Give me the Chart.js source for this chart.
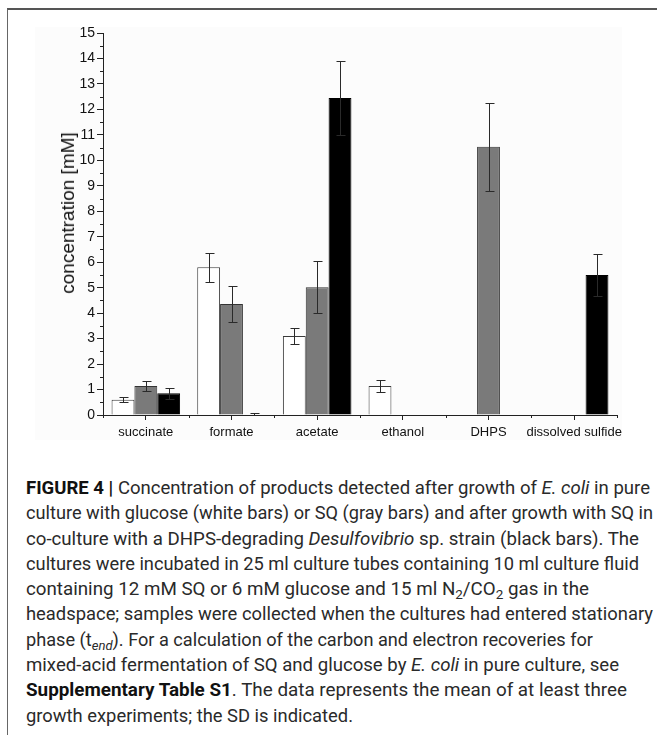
<!DOCTYPE html>
<html><head><meta charset="utf-8">
<script src="https://cdn.jsdelivr.net/npm/chart.js@4"></script>
<style>
html,body{margin:0;padding:0;background:#fff;}
body{width:657px;height:735px;position:relative;overflow:hidden;font-family:"Liberation Sans",Arial,sans-serif;}
#frame{position:absolute;left:7px;top:8px;width:700px;height:800px;border-top:2px solid #555;border-left:1px solid #666;}
#bg{position:absolute;left:35px;top:27px;width:587px;height:413px;background:#fcfcfc;}
#wrap{position:absolute;left:35px;top:17px;width:597px;height:423px;}
#ytitle{position:absolute;left:68px;top:213px;transform:translate(-50%,-50%) rotate(-90deg);white-space:nowrap;font-family:"Liberation Sans",Arial,sans-serif;font-size:19px;color:#111;}
#cap{position:absolute;left:26px;top:476px;font-family:"Liberation Sans Narrow",Roboto,"Noto Sans",sans-serif;font-size:17.5px;line-height:25.3px;color:#2a2a2a;}
#cap div{white-space:nowrap;height:25.3px;}
#cap span.l{display:inline-block;transform-origin:0 50%;}
#cap b{color:#111;}
.sub{font-size:0.72em;vertical-align:-0.28em;line-height:0;}
</style></head><body>
<div id="frame"></div>
<div id="bg"></div>
<div id="wrap"><canvas id="c" width="597" height="423"></canvas></div>
<div id="ytitle">concentration [mM]</div>
<div id="cap">
<div><span class="l"><b>FIGURE 4 |</b> Concentration of products detected after growth of <i>E. coli</i> in pure</span></div>
<div><span class="l">culture with glucose (white bars) or SQ (gray bars) and after growth with SQ in</span></div>
<div><span class="l">co-culture with a DHPS-degrading <i>Desulfovibrio</i> sp. strain (black bars). The</span></div>
<div><span class="l">cultures were incubated in 25 ml culture tubes containing 10 ml culture fluid</span></div>
<div><span class="l">containing 12 mM SQ or 6 mM glucose and 15 ml N<span class="sub">2</span>/CO<span class="sub">2</span> gas in the</span></div>
<div><span class="l">headspace; samples were collected when the cultures had entered stationary</span></div>
<div><span class="l">phase (t<span class="sub"><i>end</i></span>). For a calculation of the carbon and electron recoveries for</span></div>
<div><span class="l">mixed-acid fermentation of SQ and glucose by <i>E. coli</i> in pure culture, see</span></div>
<div><span class="l"><b>Supplementary Table S1</b>. The data represents the mean of at least three</span></div>
<div><span class="l">growth experiments; the SD is indicated.</span></div>
</div>
<script>
const categories = ['succinate', 'formate', 'acetate', 'ethanol', 'DHPS', 'dissolved sulfide'];
const glucoseValues = [0.6, 5.8, 3.1, 1.14, null, null];
const glucoseSD = [0.09, 0.56, 0.31, 0.22, null, null];
const sqValues = [1.14, 4.36, 5.02, null, 10.53, null];
const sqSD = [0.2, 0.69, 1.01, null, 1.72, null];
const cocultureValues = [0.85, 0, 12.45, null, null, 5.5];
const cocultureSD = [0.21, 0.09, 1.45, null, null, 0.82];
const yMin = 0, yMax = 15, yStep = 1;

const errorBars = {
  id: 'errorBars',
  afterDatasetsDraw(chart) {
    const ctx = chart.ctx, y = chart.scales.y, a = chart.chartArea;
    ctx.save();
    ctx.beginPath();
    ctx.rect(a.left, a.top - 20, a.right - a.left, a.bottom - a.top + 20);
    ctx.clip();
    ctx.strokeStyle = '#2a2a2a';
    ctx.lineWidth = 1;
    chart.data.datasets.forEach((ds, i) => {
      const meta = chart.getDatasetMeta(i);
      meta.data.forEach((bar, j) => {
        const v = ds.data[j], e = ds.sd[j];
        if (v == null || e == null) return;
        const x = Math.round(bar.x) + 0.5;
        const yt = Math.round(y.getPixelForValue(v + e)) + 0.5;
        const yb = Math.round(y.getPixelForValue(v - e)) + 0.5;
        const c = 4;
        ctx.beginPath();
        ctx.moveTo(x, yt); ctx.lineTo(x, yb);
        ctx.moveTo(x - c, yt); ctx.lineTo(x + c + 1, yt);
        ctx.moveTo(x - c, yb); ctx.lineTo(x + c + 1, yb);
        ctx.stroke();
      });
    });
    ctx.restore();
  }
};

const minorTicks = {
  id: 'minorTicks',
  afterDraw(chart) {
    const ctx = chart.ctx, x = chart.scales.x, y = chart.scales.y;
    ctx.save();
    ctx.strokeStyle = '#222';
    ctx.lineWidth = 1;
    ctx.beginPath();
    for (let v = yMin + yStep / 2; v < yMax; v += yStep) {
      const py = Math.round(y.getPixelForValue(v)) + 0.5;
      ctx.moveTo(y.right - 3, py); ctx.lineTo(y.right, py);
    }
    for (let i = 0; i <= categories.length; i++) {
      const px = Math.round(x.getPixelForValue(i - 0.5)) + 0.5;
      ctx.moveTo(px, x.top); ctx.lineTo(px, x.top + 3);
    }
    ctx.stroke();
    ctx.restore();
  }
};

const fam = '"Liberation Sans", Arial, sans-serif';

new Chart(document.getElementById('c'), {
  type: 'bar',
  data: {
    labels: categories,
    datasets: [
      { label: 'glucose', data: glucoseValues, sd: glucoseSD, backgroundColor: '#ffffff', borderColor: '#3a3a3a', borderWidth: 1 },
      { label: 'SQ', data: sqValues, sd: sqSD, backgroundColor: '#7a7a7a', borderColor: '#333333', borderWidth: 1 },
      { label: 'co-culture', data: cocultureValues, sd: cocultureSD, backgroundColor: '#000000', borderColor: '#000000', borderWidth: 1 }
    ]
  },
  options: {
    responsive: false,
    animation: false,
    devicePixelRatio: 1,
    datasets: { bar: { categoryPercentage: 0.8, barPercentage: 1.0 } },
    layout: { padding: { top: 16, right: 15, left: 0, bottom: 0 } },
    plugins: { legend: { display: false }, tooltip: { enabled: false } },
    scales: {
      x: {
        grid: { offset: false, drawOnChartArea: false, tickLength: 5, color: '#222' },
        border: { color: '#222', width: 1 },
        ticks: { font: { family: fam, size: 13 }, color: '#111', padding: 5, maxRotation: 0, autoSkip: false },
        afterFit(s) { s.height = 25; }
      },
      y: {
        min: yMin, max: yMax,
        grid: { drawOnChartArea: false, tickLength: 6, color: '#222' },
        border: { color: '#222', width: 1 },
        ticks: { stepSize: yStep, font: { family: fam, size: 14 }, color: '#111', padding: 2 },
        afterFit(s) { s.width = 68; }
      }
    }
  },
  plugins: [errorBars, minorTicks]
});

const lineRight = [650, 653, 639, 639, 589, 653, 593, 619, 627, 353];
document.querySelectorAll('#cap span.l').forEach((sp, i) => {
  const w = sp.getBoundingClientRect().width;
  sp.style.transform = 'scaleX(' + ((lineRight[i] - 26) / w) + ')';
});
</script>
</body></html>
